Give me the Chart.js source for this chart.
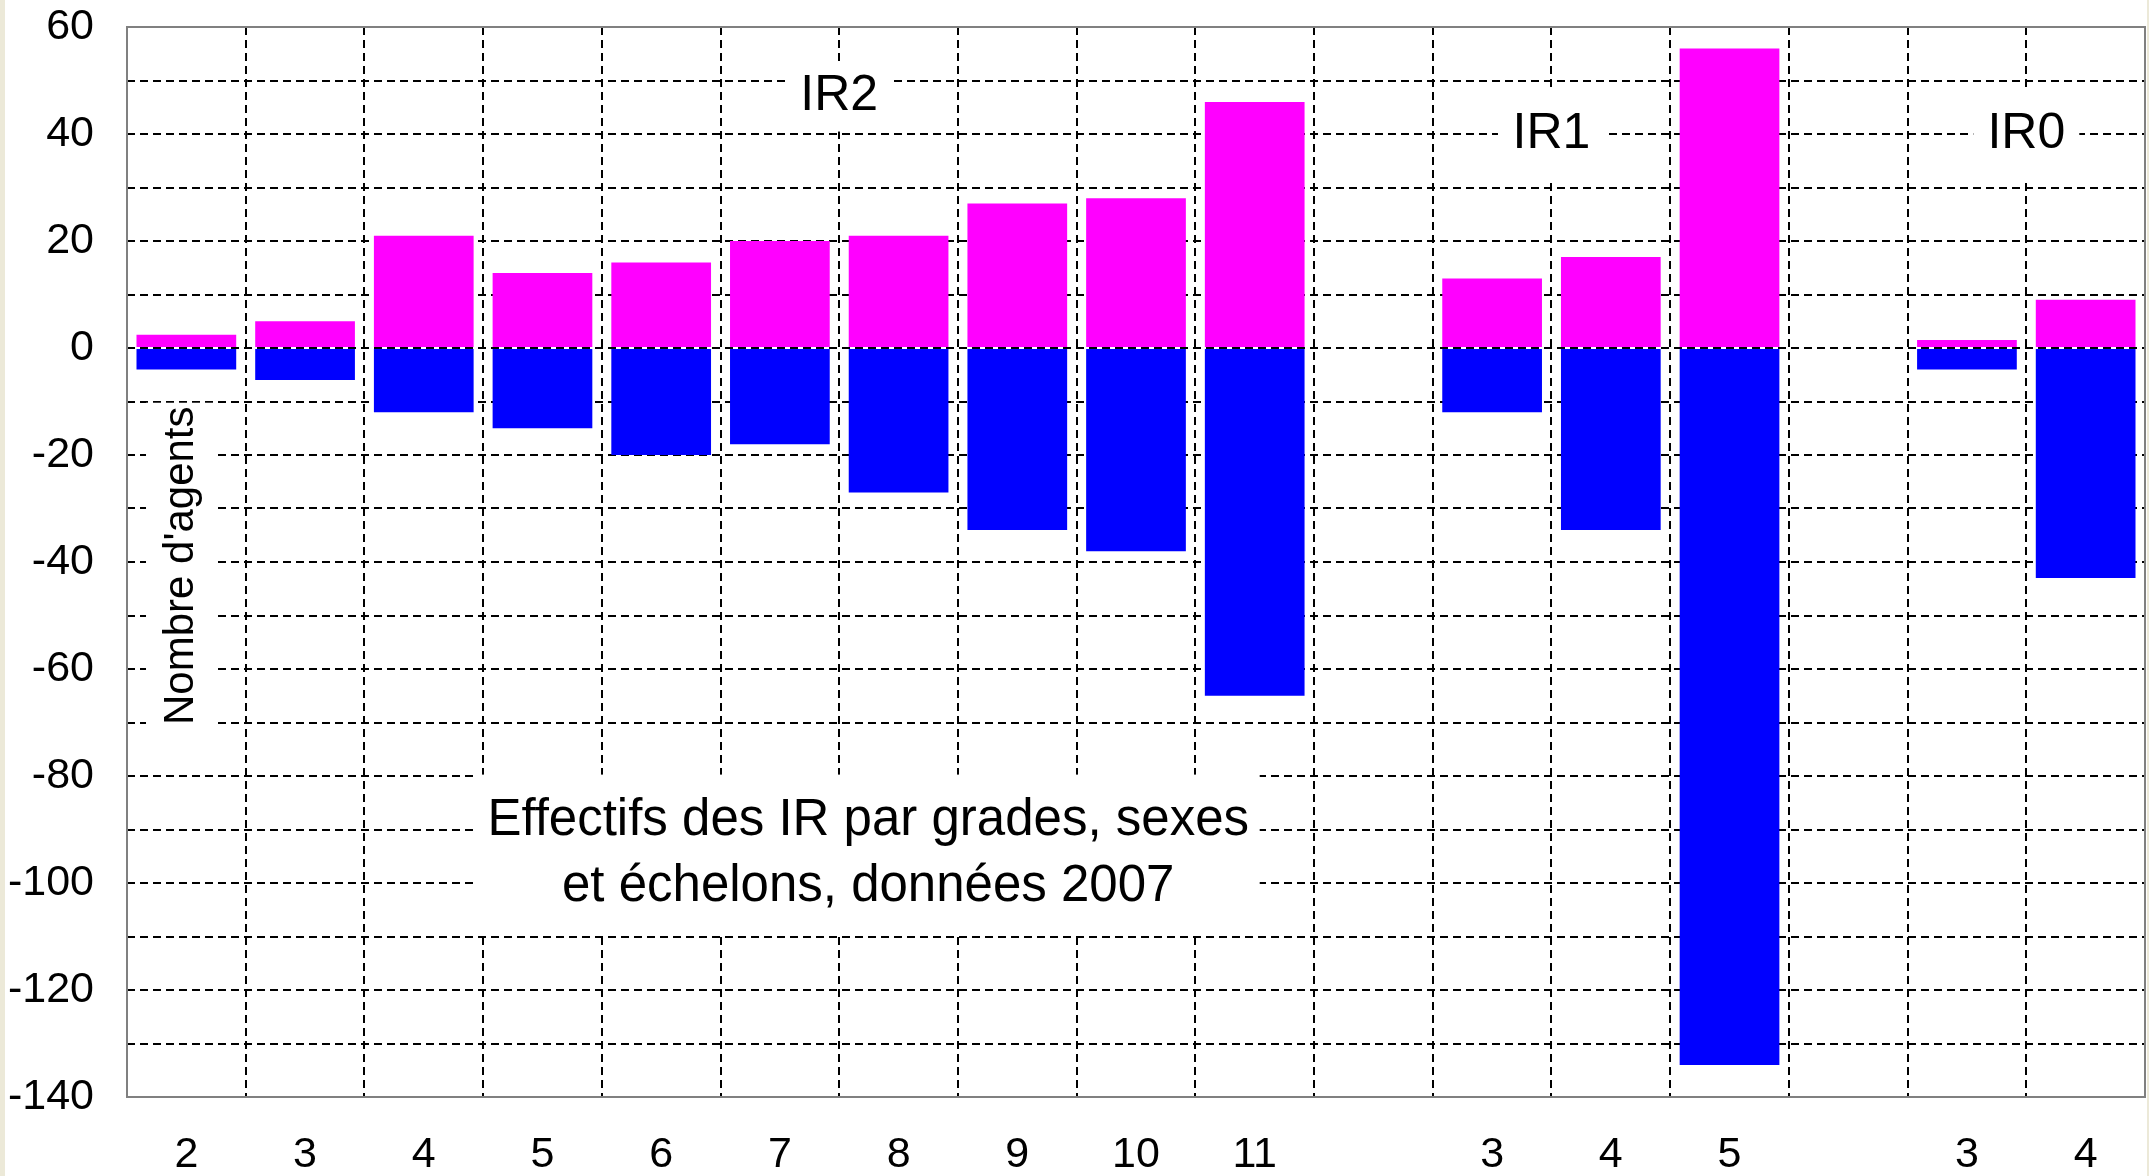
<!DOCTYPE html>
<html lang="fr">
<head>
<meta charset="utf-8">
<title>Effectifs des IR 2007</title>
<script src="https://cdn.jsdelivr.net/npm/chart.js@4.4.1/dist/chart.umd.min.js"></script>
<style>
  html, body { margin: 0; padding: 0; background: #ece9d8; overflow: hidden; }
  #effectifsChart { position: absolute; left: 5px; top: 0; background: #fff; }
</style>
</head>
<body>
<canvas id="effectifsChart" width="2142" height="1176"></canvas>
<script>
// Donnees
const echelons = ["2", "3", "4", "5", "6", "7", "8", "9", "10", "11", "", "3", "4", "5", "", "3", "4"];
const femmes = [2.5, 5, 21, 14, 16, 20, 21, 27, 28, 46, null, 13, 17, 56, null, 1.5, 9];
const hommes = [-4, -6, -12, -15, -20, -18, -27, -34, -38, -65, null, -12, -34, -134, null, -4, -43];
const yMin = -140;
const yMax = 60;
const yStep = 10;
const yLabelStep = 20;

const police = "'Liberation Sans', Arial, sans-serif";

// Textes dans le graphique (x = index categorie, y = valeur)
const notes = [
  { lines: ["IR2"], x: 5.5, y: 47, w: 106, h: 70, size: 50 },
  { lines: ["IR1"], x: 11.5, y: 40, w: 107, h: 90, size: 50 },
  { lines: ["IR0"], x: 15.5, y: 40, w: 106, h: 90, size: 50 },
  {
    lines: ["Effectifs des IR par grades, sexes", "et échelons, données 2007"],
    x: 5.744, y: -94.6, w: 783, h: 159, size: 51, lh: 66,
  },
  { lines: ["Nombre d'agents"], x: -0.045, y: -40.7, w: 70, h: 326, size: 42, rotate: true },
];

const notesPlugin = {
  id: "notes",
  afterDatasetsDraw(chart) {
    const { ctx, chartArea, scales } = chart;
    ctx.save();
    notes.forEach((n) => {
      const cx = scales.x.getPixelForValue(n.x);
      const cy = scales.y.getPixelForValue(n.y);
      ctx.fillStyle = "#fff";
      ctx.fillRect(cx - n.w / 2, cy - n.h / 2, n.w, n.h);
      ctx.fillStyle = "#000";
      ctx.font = `${n.size}px ${police}`;
      ctx.textAlign = "center";
      ctx.textBaseline = "middle";
      ctx.save();
      ctx.translate(cx, cy);
      if (n.rotate) ctx.rotate(-Math.PI / 2);
      const lh = n.lh || n.size;
      n.lines.forEach((t, i) => {
        ctx.fillText(t, 0, (i - (n.lines.length - 1) / 2) * lh);
      });
      ctx.restore();
    });
    // cadre
    ctx.strokeStyle = "#808080";
    ctx.lineWidth = 2;
    ctx.strokeRect(chartArea.left, chartArea.top, chartArea.right - chartArea.left, chartArea.bottom - chartArea.top);
    ctx.restore();
  },
};

const grille = {
  color: "#000",
  lineWidth: 2,
  drawTicks: false,
};

new Chart(document.getElementById("effectifsChart"), {
  type: "bar",
  data: {
    labels: echelons,
    datasets: [
      {
        label: "Femmes",
        data: femmes,
        backgroundColor: "#ff00ff",
        borderWidth: 0,
        barPercentage: 0.84,
        categoryPercentage: 1,
      },
      {
        label: "Hommes",
        data: hommes,
        backgroundColor: "#0000ff",
        borderWidth: 0,
        barPercentage: 0.84,
        categoryPercentage: 1,
      },
    ],
  },
  options: {
    responsive: false,
    animation: false,
    devicePixelRatio: 1,
    layout: { padding: { top: 27, right: 2, bottom: 0, left: 0 } },
    plugins: {
      legend: { display: false },
      tooltip: { enabled: false },
    },
    scales: {
      x: {
        stacked: true,
        grid: grille,
        border: { display: false, dash: [8, 5] },
        ticks: {
          color: "#000",
          font: { family: police, size: 43, lineHeight: 1 },
          padding: 37,
          autoSkip: false,
          maxRotation: 0,
        },
        afterFit: (scale) => { scale.height = 79; },
      },
      y: {
        stacked: true,
        min: yMin,
        max: yMax,
        grid: grille,
        border: { display: false, dash: [8, 5] },
        ticks: {
          stepSize: yStep,
          color: "#000",
          font: { family: police, size: 43, lineHeight: 1 },
          padding: 33,
          autoSkip: false,
          callback: (v) => (v % yLabelStep === 0 ? v : ""),
        },
        afterFit: (scale) => {
          scale.width = 122;
          scale.paddingTop = 0;
          scale.paddingBottom = 0;
        },
      },
    },
  },
  plugins: [notesPlugin],
});
</script>
</body>
</html>
